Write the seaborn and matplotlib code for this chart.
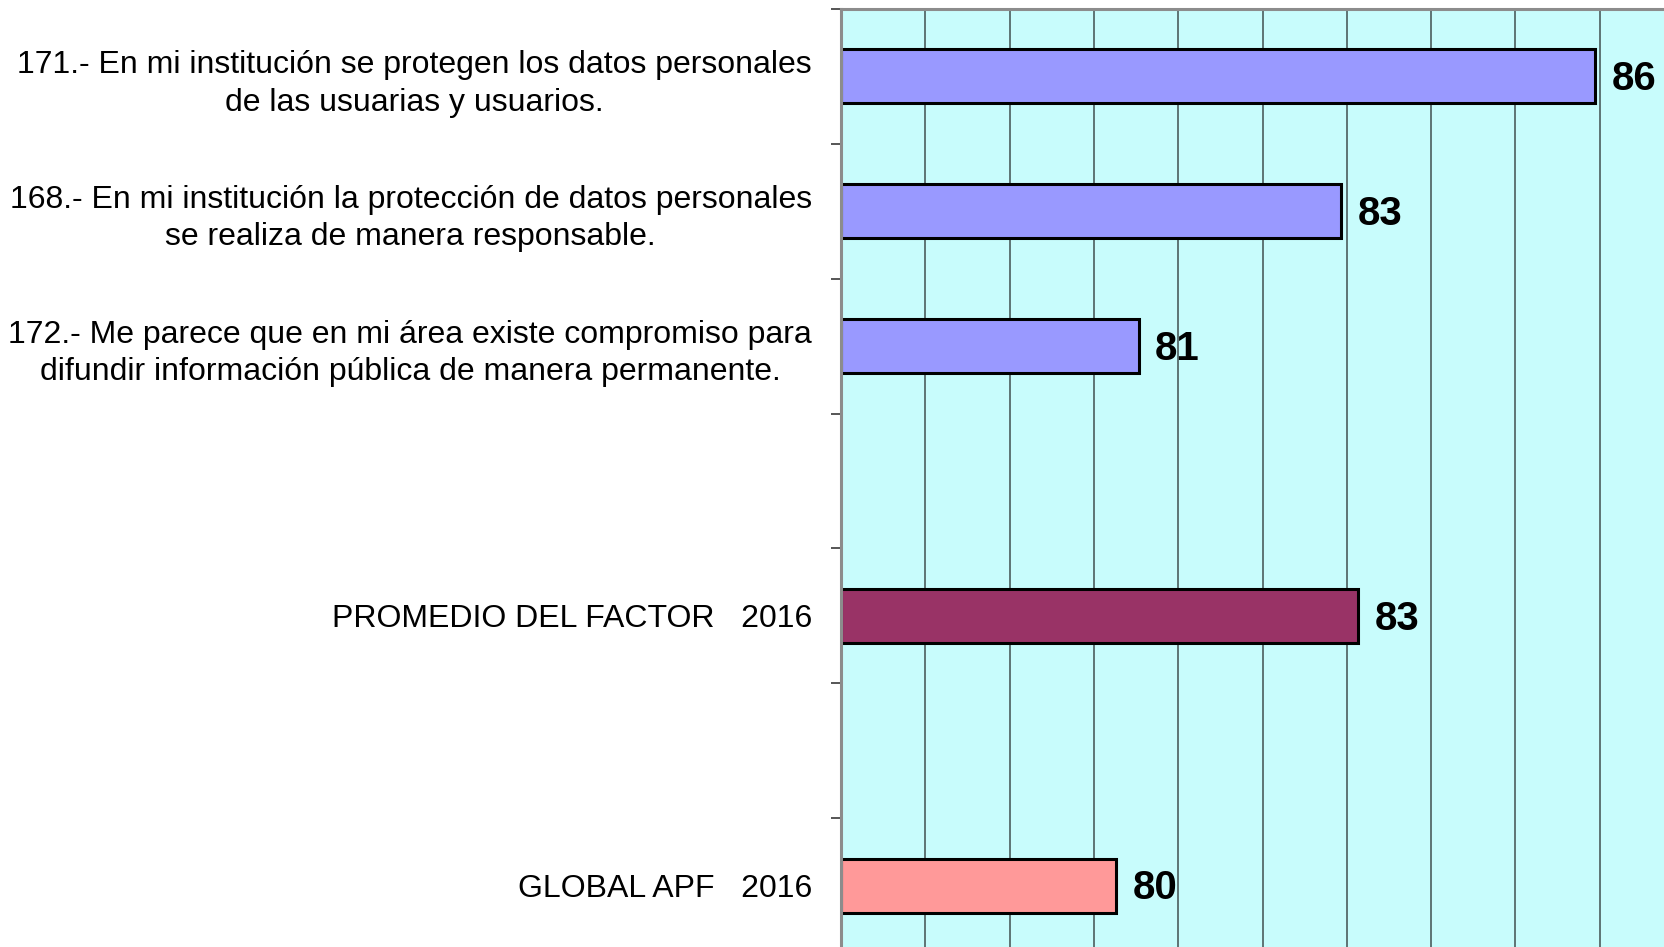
import matplotlib
matplotlib.use("Agg")
import matplotlib.pyplot as plt
import seaborn as sns
import pandas as pd
from matplotlib.ticker import FixedLocator

# Survey items (blank slots keep the spacing between groups)
categories = [
    "171.- En mi institución se protegen los datos personales\nde las usuarias y usuarios.",
    "168.- En mi institución la protección de datos personales\nse realiza de manera responsable.",
    "172.- Me parece que en mi área existe compromiso para\ndifundir información pública de manera permanente.",
    " ",
    "PROMEDIO DEL FACTOR   2016",
    "  ",
    "GLOBAL APF   2016",
]
bar_categories = [categories[0], categories[1], categories[2], categories[4], categories[6]]
scores = [85.94, 82.93, 80.53, 83.13, 80.26]
bar_colors = ["#9999FF", "#9999FF", "#9999FF", "#993366", "#FF9999"]

x_min, x_max = 77, 87

df = pd.DataFrame({"item": bar_categories, "score": scores})

sns.set_theme(style="white")
plt.rcParams["font.family"] = ["Liberation Sans", "DejaVu Sans"]
plt.rcParams["text.color"] = "black"
plt.rcParams["ytick.labelcolor"] = "black"

fig = plt.figure(figsize=(16.65, 9.47), dpi=100)
ax = fig.add_axes([841 / 1665, 1 - 953 / 947, 843 / 1665, 944 / 947])
ax.set_facecolor("#C8FCFC")

sns.barplot(
    data=df, x="score", y="item", order=categories, hue="item",
    hue_order=bar_categories, palette=bar_colors, legend=False,
    orient="h", width=0.4, edgecolor="black", linewidth=2.2,
    saturation=1, ax=ax,
)

# Bars start from the left edge of the value axis
for p in ax.patches:
    w = p.get_width()
    if w > 0:
        p.set_x(x_min)
        p.set_width(w - x_min)

ax.set_xlim(x_min, x_max)
ax.set_ylim(len(categories) - 0.5, -0.5)

# Vertical gridlines every unit
ax.xaxis.set_major_locator(FixedLocator(range(x_min, x_max + 1)))
ax.grid(axis="x", color="#5E7474", linewidth=1.4)
ax.grid(axis="y", visible=False)
ax.set_axisbelow(True)
ax.tick_params(axis="x", length=0, labelbottom=False)

# Category labels centred on bars, tick marks between categories
ax.tick_params(axis="y", which="major", length=0, pad=21, labelsize=23,
               labelcolor="black")
for t in ax.get_yticklabels():
    t.set_multialignment("center")
    t.set_linespacing(1.33)
ax.yaxis.set_minor_locator(FixedLocator([i - 0.5 for i in range(len(categories) + 1)]))
ax.tick_params(axis="y", which="minor", left=True, length=7, width=1.4,
               color="#555555", direction="out")

ax.set_xlabel("")
ax.set_ylabel("")

for side in ["top", "left", "right", "bottom"]:
    ax.spines[side].set_visible(True)
    ax.spines[side].set_color("#8C8C8C")
    ax.spines[side].set_linewidth(2.2)

# Value labels
for item, val in zip(bar_categories, scores):
    ax.annotate(f"{val:.0f}", xy=(val, categories.index(item)),
                xytext=(12, -2), textcoords="offset points",
                ha="left", va="center", fontsize=29, fontweight="bold",
                color="black")

fig.savefig("out.png", dpi=100)
